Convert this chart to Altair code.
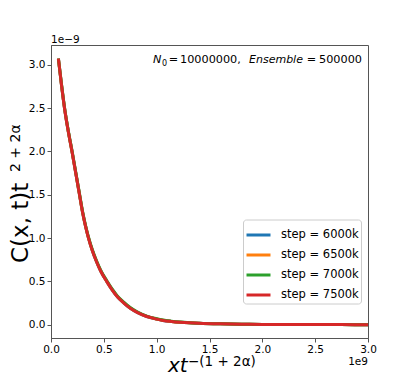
import altair as alt
import pandas as pd

# x in units of 1e9, y in units of 1e-9
x_vals = [0.07, 0.10, 0.13, 0.165, 0.20, 0.235, 0.267, 0.30, 0.33, 0.355, 0.39, 0.43,
          0.47, 0.527, 0.58, 0.63, 0.69, 0.75, 0.82, 0.906, 1.0, 1.06, 1.14, 1.22,
          1.31, 1.40, 1.6, 1.8, 2.0, 2.25, 2.5, 2.75, 3.0]
y_6000k = [3.07, 2.76, 2.48, 2.22, 1.99, 1.745, 1.52, 1.29, 1.12, 1.00, 0.86, 0.73,
           0.62, 0.50, 0.40, 0.32, 0.25, 0.19, 0.14, 0.095, 0.065, 0.05, 0.038, 0.029,
           0.022, 0.017, 0.010, 0.006, 0.004, 0.003, 0.002, 0.0015, 0.001]
y_6500k = [3.07, 2.76, 2.48, 2.22, 1.99, 1.745, 1.52, 1.29, 1.12, 1.00, 0.862, 0.732,
           0.622, 0.502, 0.402, 0.322, 0.252, 0.192, 0.141, 0.096, 0.066, 0.051, 0.038, 0.029,
           0.022, 0.017, 0.010, 0.006, 0.004, 0.003, 0.002, 0.0015, 0.001]
y_7000k = [3.07, 2.77, 2.49, 2.23, 2.00, 1.755, 1.53, 1.30, 1.13, 1.01, 0.87, 0.74,
           0.63, 0.51, 0.41, 0.33, 0.26, 0.198, 0.147, 0.10, 0.069, 0.054, 0.041, 0.031,
           0.023, 0.018, 0.011, 0.007, 0.004, 0.003, 0.002, 0.0015, 0.001]
y_7500k = [3.07, 2.76, 2.48, 2.22, 1.99, 1.745, 1.52, 1.29, 1.12, 1.00, 0.86, 0.73,
           0.62, 0.50, 0.40, 0.32, 0.25, 0.19, 0.14, 0.095, 0.065, 0.05, 0.038, 0.029,
           0.022, 0.017, 0.010, 0.006, 0.004, 0.003, 0.002, 0.0015, 0.001]
series_names = ["step = 6000k", "step = 6500k", "step = 7000k", "step = 7500k"]
series_colors = ["#1f77b4", "#ff7f0e", "#2ca02c", "#d62728"]
ticks = [0.0, 0.5, 1.0, 1.5, 2.0, 2.5, 3.0]

rows = []
for name, ys in zip(series_names, [y_6000k, y_6500k, y_7000k, y_7500k]):
    for xv, yv in zip(x_vals, ys):
        rows.append({"x": xv, "y": yv, "series": name})
df = pd.DataFrame(rows)

FONT = "DejaVu Sans"

lines = alt.Chart(df).mark_line(strokeWidth=3, clip=True, interpolate="monotone").encode(
    x=alt.X("x:Q", scale=alt.Scale(domain=[0, 3], nice=False, zero=False),
            axis=alt.Axis(values=ticks, format=".1f", title=None, labelFlush=False)),
    y=alt.Y("y:Q", scale=alt.Scale(domain=[-0.153, 3.227], nice=False, zero=False),
            axis=alt.Axis(values=ticks, format=".1f", title=None, labelFlush=False)),
    color=alt.Color("series:N", scale=alt.Scale(domain=series_names, range=series_colors),
                    legend=alt.Legend(title=None, orient="none", legendX=192, legendY=174.5,
                                      symbolType="stroke", symbolSize=576, symbolStrokeWidth=3,
                                      labelFontSize=11.5, labelFont=FONT, labelColor="#000",
                                      labelOffset=9, rowPadding=-3, padding=2,
                                      strokeColor="#cccccc", fillColor="#ffffff",
                                      cornerRadius=3)),
)

one = pd.DataFrame({"k": [0]})


def txt(s, x, y, size, align="left", baseline="alphabetic", angle=0, style="normal", font=FONT):
    kw = dict(fontSize=size, align=align, baseline=baseline, font=font, color="#000",
              fontStyle=style)
    if angle:
        kw["angle"] = angle
    return alt.Chart(one).mark_text(**kw).encode(
        x=alt.value(x), y=alt.value(y), text=alt.value(s))


texts = [
    # y title
    txt("C(x, t)t", -30, 218, 23, align="left", baseline="middle", angle=270),
    txt("2 + 2α", -35, 127, 14, align="left", baseline="middle", angle=270),
    # x title
    txt("xt", 117, 327, 20, style="italic"),
    txt("−(1 + 2α)", 137, 321, 13.5),
    # offsets
    txt("1e−9", 0, -2, 10.5),
    txt("1e9", 317, 320, 10.5, align="right"),
    # annotation
    txt("N", 102, 18, 11.25, style="italic"),
    txt("0", 111, 21, 8),
    txt("=", 122.5, 18, 11.25, align="center"),
    txt("10000000,", 129, 18, 11.25, align="left"),
    txt("Ensemble", 198, 18, 11, style="italic"),
    txt("=", 260.5, 18, 11.25, align="center"),
    txt("500000", 311, 18, 11.25, align="right"),
]

chart = alt.layer(lines, *texts).properties(
    width=317, height=293,
    autosize=alt.AutoSizeParams(type="none"),
    padding={"left": 43, "top": 37, "right": 33, "bottom": 38},
).configure_view(stroke="#555555", strokeWidth=1).configure_axis(
    domainColor="#555555", tickColor="#555555", tickSize=4, labelFontSize=10.5,
    labelFont=FONT, labelColor="#000", grid=False, labelPadding=2,
)

chart.save("out.html", embed_options={"renderer": "svg", "actions": False})
